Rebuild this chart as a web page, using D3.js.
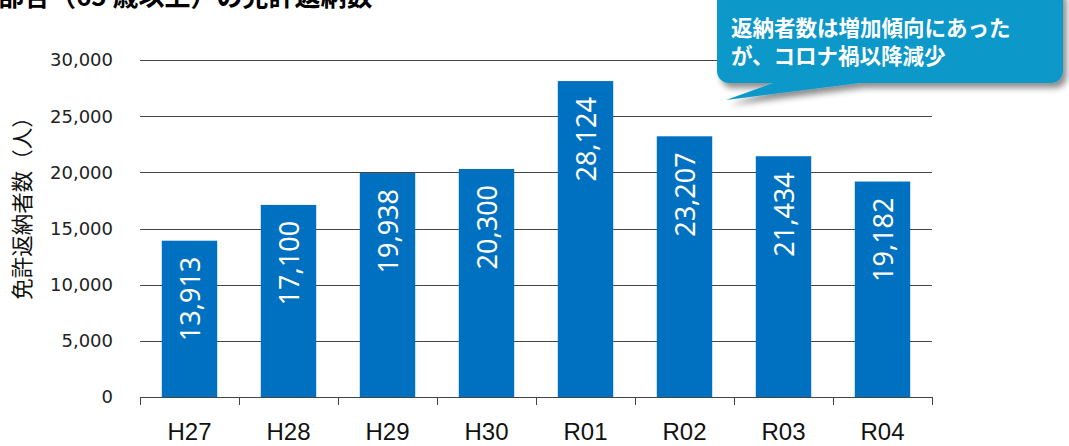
<!DOCTYPE html>
<html><head><meta charset="utf-8">
<script src="https://cdn.jsdelivr.net/npm/d3@7"></script>
<style>body{margin:0;background:#fff}svg{display:block}</style>
</head><body>
<script>
const categories = ["H27","H28","H29","H30","R01","R02","R03","R04"];
const values = [13913,17100,19938,20300,28124,23207,21434,19182];
const yTicks = [0,5000,10000,15000,20000,25000,30000];
const titleText = "部合（65 歳以上）の免許返納数";
const yLabel = "免許返納者数（人）";
const calloutLines = ["返納者数は増加傾向にあった","が、コロナ禍以降減少"];

(function(){
const W=1069,H=446;
const svg=d3.select("body").append("svg").attr("width",W).attr("height",H);
const pL=140,pR=932,pT=60,pB=397;
const x=d3.scaleBand().domain(categories).range([pL,pR]).paddingInner(0.44).paddingOuter(0.22);
const y=d3.scaleLinear().domain([0,30000]).range([pB,pT]);

svg.append("text").attr("x",-2).attr("y",6).attr("font-family","Noto Sans CJK JP").attr("font-weight","bold")
  .attr("font-size",26).attr("fill","#000").text(titleText);

svg.append("g").selectAll("line").data(yTicks.filter(d=>d>0)).join("line")
  .attr("x1",pL).attr("x2",pR).attr("y1",d=>Math.round(y(d))+0.5).attr("y2",d=>Math.round(y(d))+0.5)
  .attr("stroke","#444").attr("stroke-width",1);

svg.append("g").selectAll("text").data(yTicks).join("text")
  .attr("x",113).attr("y",d=>y(d)).attr("dy","0.36em").attr("text-anchor","end")
  .attr("font-family","DejaVu Sans").attr("font-size",18).attr("fill","#222")
  .text(d=>d3.format(",")(d));

svg.append("line").attr("x1",pL).attr("x2",pR).attr("y1",pB+0.5).attr("y2",pB+0.5).attr("stroke","#444");
const bounds=d3.range(categories.length+1).map(i=>pL+i*(pR-pL)/categories.length);
svg.append("g").selectAll("line").data(bounds).join("line")
  .attr("x1",d=>Math.round(d)+0.5).attr("x2",d=>Math.round(d)+0.5).attr("y1",pB).attr("y2",pB+8).attr("stroke","#444");
svg.append("g").selectAll("text").data(categories).join("text")
  .attr("x",d=>x(d)+x.bandwidth()/2).attr("y",440).attr("text-anchor","middle")
  .attr("font-family","Liberation Sans").attr("font-size",24).attr("fill","#111").text(d=>d);

svg.append("g").selectAll("rect").data(values).join("rect")
  .attr("x",(d,i)=>x(categories[i])).attr("width",x.bandwidth())
  .attr("y",d=>y(d)).attr("height",d=>pB-y(d)).attr("fill","#0070C0");

svg.append("g").selectAll("text").data(values).join("text")
  .attr("transform",(d,i)=>`translate(${x(categories[i])+x.bandwidth()/2+10},${y(d)+16}) rotate(-90)`)
  .attr("text-anchor","end").attr("font-family","Noto Sans").attr("font-size",27).attr("fill","#fff")
  .text(d=>d3.format(",")(d));

svg.append("text").attr("transform","translate(30,203) rotate(-90)").attr("text-anchor","middle")
  .attr("font-family","Noto Sans CJK JP").attr("font-size",21.5).attr("fill","#111").text(yLabel);

const defs=svg.append("defs");
const f=defs.append("filter").attr("id","sh").attr("x","-20%").attr("y","-20%").attr("width","140%").attr("height","150%");
f.append("feGaussianBlur").attr("in","SourceAlpha").attr("stdDeviation",3).attr("result","b");
f.append("feOffset").attr("in","b").attr("dx",4).attr("dy",5).attr("result","o");
f.append("feComponentTransfer").attr("in","o").attr("result","o2").append("feFuncA").attr("type","linear").attr("slope",0.45);
const m=f.append("feMerge");m.append("feMergeNode").attr("in","o2");m.append("feMergeNode").attr("in","SourceGraphic");
const bx0=717,bx1=1063,by0=-14,by1=83,r=12;
const p=d3.path();
p.moveTo(bx0+r,by0);p.lineTo(bx1-r,by0);p.arcTo(bx1,by0,bx1,by0+r,r);p.lineTo(bx1,by1-r);p.arcTo(bx1,by1,bx1-r,by1,r);
p.lineTo(860,by1);p.lineTo(726,100);p.lineTo(773,by1);p.lineTo(bx0+r,by1);p.arcTo(bx0,by1,bx0,by1-r,r);p.lineTo(bx0,by0+r);p.arcTo(bx0,by0,bx0+r,by0,r);p.closePath();
svg.append("path").attr("d",p.toString()).attr("fill","#0A98CA").attr("filter","url(#sh)");
svg.append("g").selectAll("text").data(calloutLines).join("text")
  .attr("x",731).attr("y",(d,i)=>36+i*28).attr("font-family","Noto Sans CJK JP").attr("font-weight","bold")
  .attr("font-size",21.5).attr("fill","#fff").text(d=>d);
})();
</script>
</body></html>
